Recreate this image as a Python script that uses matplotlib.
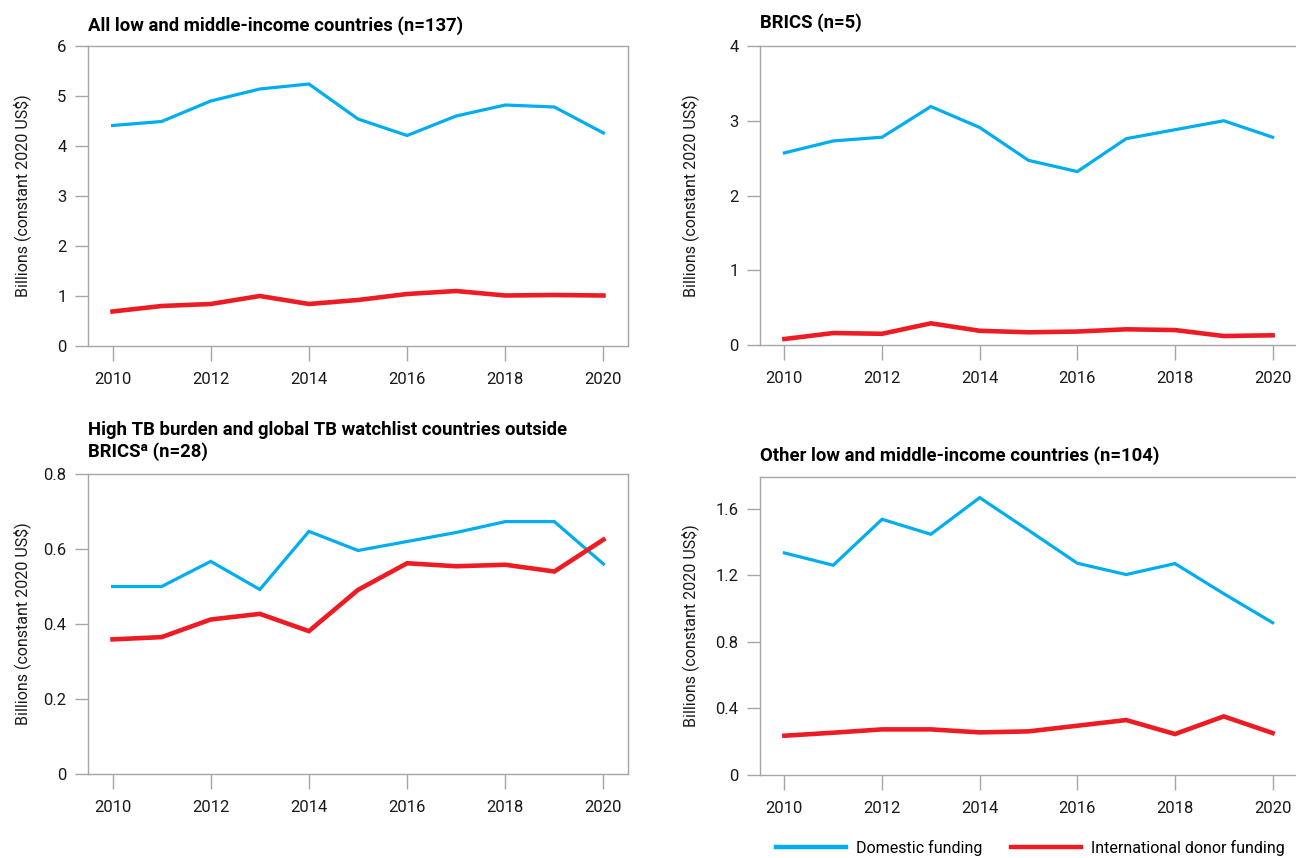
import matplotlib
matplotlib.use('Agg')
import matplotlib.pyplot as plt
from matplotlib.lines import Line2D

plt.rcParams['font.family'] = ['Roboto', 'DejaVu Sans']

years = list(range(2010, 2021))

# All low and middle-income countries (n=137)
all_dom = [4.41, 4.49, 4.90, 5.14, 5.24, 4.54, 4.21, 4.60, 4.82, 4.78, 4.26]
all_int = [0.69, 0.80, 0.84, 1.00, 0.84, 0.92, 1.04, 1.10, 1.01, 1.02, 1.01]

# BRICS (n=5)
brics_dom = [2.57, 2.73, 2.78, 3.19, 2.91, 2.47, 2.32, 2.76, 2.88, 3.00, 2.78]
brics_int = [0.08, 0.16, 0.15, 0.29, 0.19, 0.17, 0.18, 0.21, 0.20, 0.12, 0.13]

# High TB burden / watchlist outside BRICS (n=28)
htb_dom = [0.500, 0.500, 0.567, 0.492, 0.647, 0.596, 0.620, 0.644, 0.673, 0.673, 0.560]
htb_int = [0.359, 0.365, 0.412, 0.427, 0.381, 0.491, 0.562, 0.554, 0.558, 0.540, 0.625]

# Other low and middle-income countries (n=104)
oth_dom = [1.334, 1.260, 1.536, 1.446, 1.666, 1.470, 1.272, 1.204, 1.270, 1.089, 0.915]
oth_int = [0.236, 0.254, 0.274, 0.274, 0.256, 0.262, 0.296, 0.330, 0.246, 0.352, 0.252]

titles = ['All low and middle-income countries (n=137)',
          'BRICS (n=5)',
          'High TB burden and global TB watchlist countries outside\nBRICS\u1d43 (n=28)',
          'Other low and middle-income countries (n=104)']
yticks = [[0, 1, 2, 3, 4, 5, 6], [0, 1, 2, 3, 4],
          [0, 0.2, 0.4, 0.6, 0.8], [0, 0.4, 0.8, 1.2, 1.6]]
ytick_labels = [['0', '1', '2', '3', '4', '5', '6'], ['0', '1', '2', '3', '4'],
                ['0', '0.2', '0.4', '0.6', '0.8'], ['0', '0.4', '0.8', '1.2', '1.6']]
ylims = [6, 4, 0.8, 1.79]
series = [(all_dom, all_int), (brics_dom, brics_int),
          (htb_dom, htb_int), (oth_dom, oth_int)]

BLUE = '#00aeef'
RED = '#ed1c24'
GREY = '#a6a6a6'
TXT = '#1a1a1a'
W, H = 1296, 858

fig = plt.figure(figsize=(W / 100, H / 100), dpi=100)

# axes boxes in pixels: left, top, right, bottom
boxes = [(88, 46, 628, 346), (760, 46, 1297, 345),
         (88, 474, 628, 774), (760, 477, 1297, 775)]
title_y = [26, 23, 441, 456]
ylabel_x = [22, 690, 22, 690]

for i, (l, t, r, b) in enumerate(boxes):
    ax = fig.add_axes([l / W, 1 - b / H, (r - l) / W, (b - t) / H])
    dom, intl = series[i]
    ax.plot(years, dom, color=BLUE, lw=2.3, solid_joinstyle='miter')
    ax.plot(years, intl, color=RED, lw=3.3, solid_joinstyle='miter')
    ax.set_xlim(2009.5, 2020.5)
    ax.set_ylim(0, ylims[i])
    ax.set_xticks([2010, 2012, 2014, 2016, 2018, 2020])
    ax.set_yticks(yticks[i])
    ax.set_yticklabels(ytick_labels[i])
    for s in ax.spines.values():
        s.set_color(GREY)
        s.set_linewidth(1.0)
    ax.tick_params(axis='x', length=11, width=1.0, color=GREY, pad=8,
                   labelsize=12, labelcolor=TXT)
    ax.tick_params(axis='y', length=9.5, width=1.0, color=GREY, pad=6,
                   labelsize=12, labelcolor=TXT)
    ax.set_ylabel('Billions (constant 2020 US$)', fontsize=11.5, color=TXT,
                  va='center')
    ax.yaxis.set_label_coords((ylabel_x[i] - l) / (r - l), 0.5)
    fig.text(l / W, 1 - title_y[i] / H, titles[i], fontsize=13.3,
             fontweight='bold', ha='left', va='center', linespacing=1.25)

handles = [Line2D([], [], color=BLUE, lw=3.2), Line2D([], [], color=RED, lw=3.2)]
fig.legend(handles, ['Domestic funding', 'International donor funding'],
           loc='center left', bbox_to_anchor=(776 / W, 1 - 848 / H), ncol=2,
           frameon=False, fontsize=11.5, handlelength=4.4, handletextpad=0.6,
           columnspacing=1.8, borderaxespad=0, borderpad=0)

fig.savefig('out.png', dpi=100)
